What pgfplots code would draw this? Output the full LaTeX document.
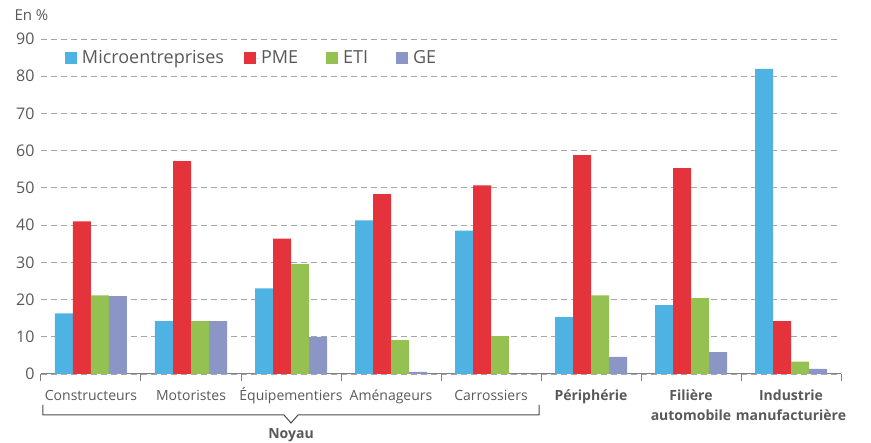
\documentclass[border=0pt]{standalone}
\usepackage{pgfplots}
\pgfplotsset{compat=1.18}
\usepackage{fontspec}
\setmainfont{Open Sans}
\definecolor{cMicro}{HTML}{4EB3E3}
\definecolor{cPME}{HTML}{E4333B}
\definecolor{cETI}{HTML}{95C153}
\definecolor{cGE}{HTML}{8C96C6}
\definecolor{txt}{HTML}{595959}
\definecolor{gridc}{HTML}{A6A6A6}
\newcommand{\twol}[2]{\begin{tabular}[t]{@{}c@{}}\textbf{#1}\\\textbf{#2}\end{tabular}}
\begin{document}
\begin{tikzpicture}
\path[use as bounding box] (-41pt,-69pt) rectangle (830pt,374pt);
\begin{axis}[
  at={(0pt,0pt)}, anchor=south west,
  scale only axis, width=800pt, height=335pt,
  xmin=-0.5, xmax=7.5, ymin=0, ymax=90,
  ybar=0pt, bar width=18pt,
  axis lines*=left,
  x axis line style={draw=gray, line width=1pt},
  y axis line style={draw=none},
  ytick={0,10,...,90},
  ymajorgrids, grid style={gridc, line width=0.8pt, dash pattern=on 6pt off 4pt},
  xtick={0,...,7},
  xticklabels={Constructeurs,Motoristes,Équipementiers,Aménageurs,Carrossiers,{\textbf{Périphérie}},{\twol{Filière}{automobile}},{\twol{Industrie}{manufacturière}}},
  minor xtick={-0.5,0.5,...,7.5},
  major tick length=0pt, minor tick length=7pt,
  tick align=outside,
  minor tick style={gray, line width=1pt},
  xticklabel style={font=\fontsize{14}{20}\selectfont, text=txt, anchor=base, yshift=-27pt},
  yticklabel style={font=\fontsize{16}{18}\selectfont, text=txt, xshift=-3pt},
  /pgf/number format/assume math mode=true,
  clip=false,
  legend columns=4,
  legend style={draw=none, fill=none, at={(rel axis cs:0.026,0.943)}, anchor=west,
    font=\fontsize{18}{20}\selectfont, text=txt,
    /tikz/column 2/.style={column sep=18pt},
    /tikz/column 4/.style={column sep=26pt},
    /tikz/column 6/.style={column sep=26pt}},
  legend image code/.code={\fill[#1] (0pt,-6pt) rectangle (12pt,6pt); \path (0pt,0pt) -- (15pt,0pt);},
]
\addplot[fill=cMicro, draw=none] coordinates {(0,16.3) (1,14.2) (2,23.0) (3,41.3) (4,38.5) (5,15.3) (6,18.5) (7,82.0)};
\addplot[fill=cPME, draw=none] coordinates {(0,41.0) (1,57.2) (2,36.4) (3,48.3) (4,50.7) (5,58.8) (6,55.3) (7,14.2)};
\addplot[fill=cETI, draw=none] coordinates {(0,21.1) (1,14.2) (2,29.5) (3,9.1) (4,10.2) (5,21.1) (6,20.4) (7,3.3)};
\addplot[fill=cGE, draw=none] coordinates {(0,20.9) (1,14.2) (2,10.0) (3,0.6) (4,0) (5,4.6) (6,5.9) (7,1.4)};
\legend{Microentreprises,PME,ETI,GE}
\draw[gray!60!black, line width=1pt]
  ([yshift=-31pt]axis cs:-0.48,0) -- ([yshift=-41pt]axis cs:-0.48,0)
  -- ([yshift=-41pt]axis cs:1.93,0) -- ([yshift=-49pt]axis cs:2,0)
  -- ([yshift=-41pt]axis cs:2.07,0) -- ([yshift=-41pt]axis cs:4.48,0)
  -- ([yshift=-31pt]axis cs:4.48,0);
\node[font=\fontsize{14}{16}\selectfont\bfseries, text=txt] at ([yshift=-61pt]axis cs:2,0) {Noyau};
\node[anchor=west, font=\fontsize{15}{17}\selectfont, text=txt] at ([xshift=-30pt,yshift=24pt]rel axis cs:0,1) {En \%};
\end{axis}
\end{tikzpicture}
\end{document}
